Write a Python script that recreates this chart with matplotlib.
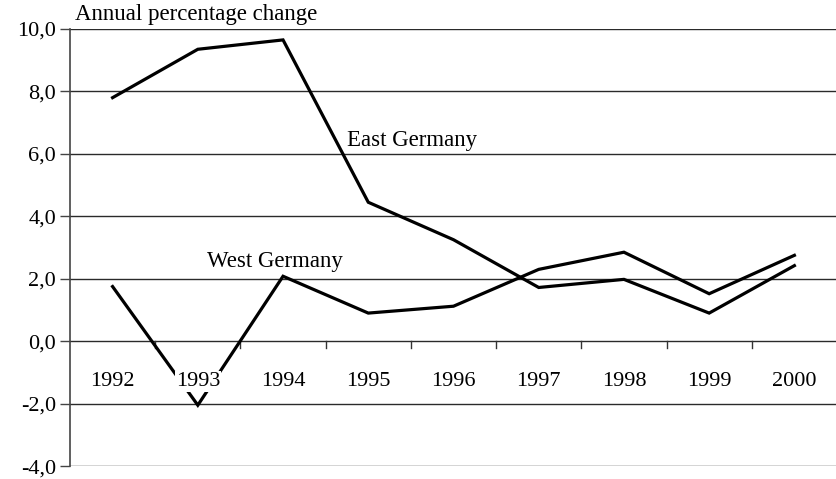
import numpy as np
import matplotlib.pyplot as plt

years = ['1992', '1993', '1994', '1995', '1996', '1997', '1998', '1999', '2000']
east = [7.8, 9.35, 9.65, 4.45, 3.25, 1.72, 1.98, 0.9, 2.42]
west = [1.75, -2.05, 2.08, 0.9, 1.12, 2.3, 2.85, 1.52, 2.75]
yticks = [-4, -2, 0, 2, 4, 6, 8, 10]
ytick_labels = ['-4,0', '-2,0', '0,0', '2,0', '4,0', '6,0', '8,0', '10,0']

plt.rcParams['font.family'] = 'Liberation Serif'

fig = plt.figure(figsize=(8.37, 4.79), dpi=100)
ax = fig.add_axes([0.0836, 0.027, 0.9164, 0.9125])

x = np.arange(len(years))
ax.plot(x, east, color='black', lw=2.3, zorder=3, solid_joinstyle='miter')
ax.plot(x, west, color='black', lw=2.3, zorder=3, solid_joinstyle='miter')

ax.set_xlim(-0.5, len(years) - 0.5)
ax.set_ylim(-4, 10)

# horizontal grid lines
for y in yticks:
    ax.axhline(y, color='#2a2a2a', lw=1.0, zorder=1)

ax.set_yticks(yticks)
ax.set_yticklabels(ytick_labels, fontsize=16)
ax.tick_params(axis='y', direction='out', length=7, width=1, color='#444444', pad=3)

# x axis sits at zero with ticks at category boundaries
ax.set_xticks([])
for b in np.arange(0.5, len(years) - 0.5, 1.0):
    ax.plot([b, b], [0, -0.22], color='#333333', lw=1.0, zorder=1)

for xi, yr in zip(x, years):
    ax.text(xi, -1.28, yr, ha='center', va='center', fontsize=16, zorder=4,
            bbox=dict(facecolor='white', edgecolor='none', pad=0.8))

for s in ['top', 'right', 'bottom']:
    ax.spines[s].set_visible(False)
ax.spines['left'].set_color('#444444')
ax.spines['left'].set_linewidth(1.2)

ax.text(-0.44, 10.28, 'Annual percentage change', fontsize=16.5, va='baseline', ha='left',
        clip_on=False)
ax.text(2.745, 6.26, 'East Germany', fontsize=16.5, va='baseline', ha='left')
ax.text(1.11, 2.37, 'West Germany', fontsize=16.5, va='baseline', ha='left')

fig.savefig('out.png', dpi=100)
